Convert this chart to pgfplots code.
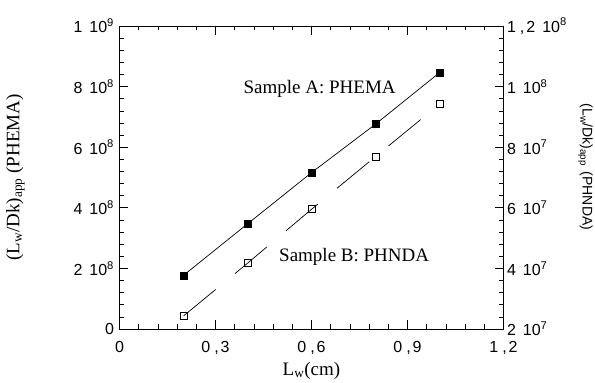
\documentclass[border=0pt]{standalone}
\usepackage{fontspec}
\setmainfont{Liberation Serif}
\setsansfont{Liberation Sans}
\usepackage{pgfplots}
\pgfplotsset{compat=1.18}
\newcommand{\tl}{\fontsize{16}{16}\selectfont\sffamily}
\newcommand{\sep}{\hspace{7pt}}
\newcommand{\cm}[2]{#1\hspace{4pt},\hspace{2pt}#2}
\begin{document}
\begin{tikzpicture}
\begin{axis}[
  name=main,
  scale only axis, width=384pt, height=303pt,
  clip=false,
  xmin=0, xmax=1.2, ymin=0, ymax=1e9,
  scaled y ticks=false, scaled x ticks=false,
  xtick={0,0.3,0.6,0.9,1.2},
  xticklabels={0,{\cm03},{\cm06},{\cm09},{\cm12}},
  ytick={0,2e8,4e8,6e8,8e8,1e9},
  yticklabels={0,{2\sep10\textsuperscript{8}},{4\sep10\textsuperscript{8}},{6\sep10\textsuperscript{8}},{8\sep10\textsuperscript{8}},{1\sep10\textsuperscript{9}}},
  minor x tick num=4, minor y tick num=4,
  xtick pos=both, ytick pos=left,
  tick align=inside,
  major tick length=9pt, minor tick length=4.5pt,
  every tick/.style={black, line width=0.6pt},
  axis line style={line width=0.7pt},
  tick label style={font=\tl},
  xticklabel style={yshift=-9pt},
  yticklabel style={xshift=-2pt},
]
\addplot[black, line width=0.7pt, mark=square*, mark size=3.5pt] coordinates {
  (0.2,1.77e8) (0.4,3.47e8) (0.6,5.16e8) (0.8,6.76e8) (1.0,8.46e8)
};
\node[anchor=base west, font=\fontsize{19}{19}\selectfont] at (axis cs:0.377,7.76e8) {Sample A: PHEMA};
\node[anchor=base west, font=\fontsize{19}{19}\selectfont] at (axis cs:0.488,2.22e8) {Sample B: PHNDA};
\node[anchor=base, font=\fontsize{19}{19}\selectfont] at ([yshift=-46pt]rel axis cs:0.5,0) {L\textsubscript{w}(cm)};
\node[rotate=90, anchor=center, font=\fontsize{19}{19}\selectfont] at ([xshift=-104pt]rel axis cs:0,0.5) {(L\textsubscript{w}/Dk)\textsubscript{app} (PHEMA)};
\end{axis}
\begin{axis}[
  scale only axis, width=384pt, height=303pt,
  clip=false,
  xmin=0, xmax=1.2, ymin=2e7, ymax=1.2e8,
  scaled y ticks=false,
  hide x axis,
  axis y line*=right,
  ytick={2e7,4e7,6e7,8e7,1e8,1.2e8},
  yticklabels={{2\sep10\textsuperscript{7}},{4\sep10\textsuperscript{7}},{6\sep10\textsuperscript{7}},{8\sep10\textsuperscript{7}},{1\sep10\textsuperscript{8}},{\cm12\sep10\textsuperscript{8}}},
  minor y tick num=4,
  tick align=inside,
  major tick length=9pt, minor tick length=4.5pt,
  every tick/.style={black, line width=0.6pt},
  axis line style={line width=0.7pt},
  tick label style={font=\tl},
]
\addplot[black, line width=0.7pt, dash pattern=on 41.6pt off 25pt, mark=square, mark size=3.5pt, mark options={solid}] coordinates {
  (0.2,2.43e7) (0.4,4.17e7) (0.6,5.95e7) (0.8,7.69e7) (1.0,9.42e7)
};
\node[rotate=-90, anchor=center, font=\fontsize{14}{14}\selectfont\sffamily] at ([xshift=82pt]rel axis cs:1,0.535) {(L\textsubscript{w}/Dk)\textsubscript{app}\hspace{0.4em}(PHNDA)};
\end{axis}
\pgfresetboundingbox
\useasboundingbox ([shift={(-119.5pt,-54pt)}]main.south west) rectangle ([shift={(91.5pt,26pt)}]main.north east);
\end{tikzpicture}
\end{document}
